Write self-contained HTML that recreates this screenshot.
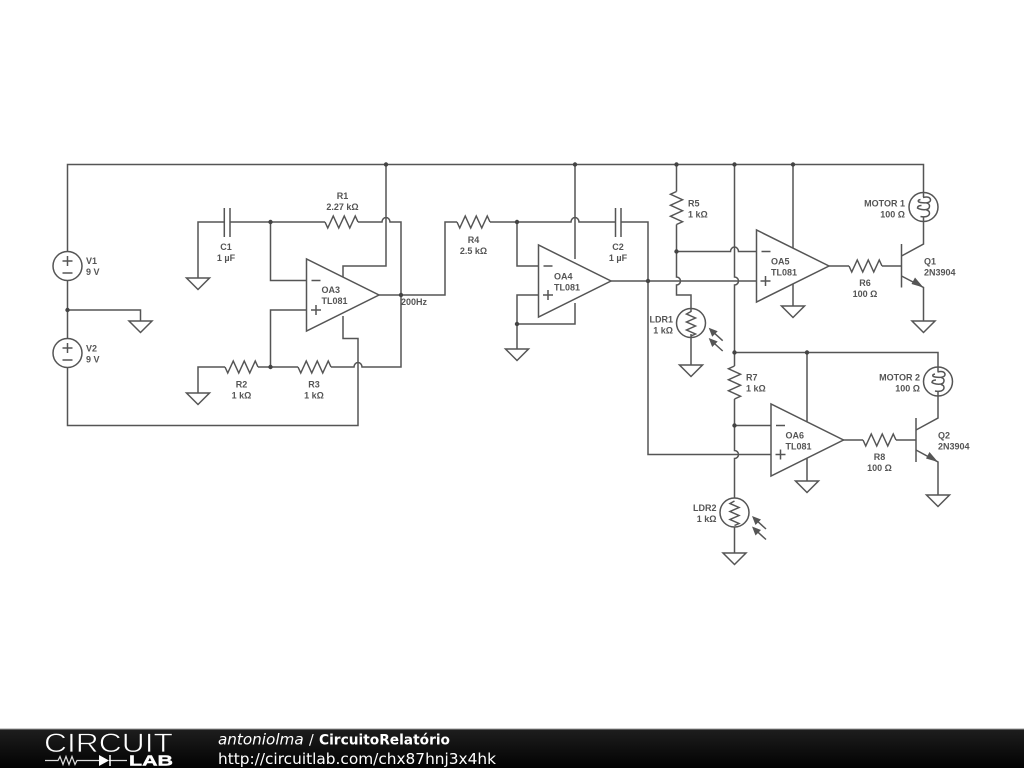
<!DOCTYPE html>
<html><head><meta charset="utf-8"><style>
html,body{margin:0;padding:0;background:#fff;width:1024px;height:768px;overflow:hidden}
svg{display:block}
.w{fill:none;stroke:#555;stroke-width:1.5;stroke-linejoin:miter}
text{font-family:"Liberation Sans",sans-serif;font-size:9px;font-weight:bold;fill:#555}
.m{text-anchor:middle}.e{text-anchor:end}
.f{font-family:"DejaVu Sans",sans-serif;fill:#fff;font-weight:normal}
.d{filter:blur(.3px)}
</style></head><body>
<svg width="1024" height="768" viewBox="0 0 1024 768" xmlns="http://www.w3.org/2000/svg">
<defs>
<linearGradient id="g" x1="0" y1="0" x2="0" y2="1"><stop offset="0" stop-color="#1e1e1e"/><stop offset="1" stop-color="#020202"/></linearGradient>
<path id="r" class="w" d="M0 0l2.75 6 5.5-12 5.5 12 5.5-12 5.5 12 5.5-12 2.75 6"/>
<path id="gnd" class="w" d="M-11.5 0H11.5L0 11.5Z"/>
<path id="ldrz" class="w" d="M0 -11.5l-4.5 2.5 9 4-9 4 9 4-9 4 9 4-4.5 2"/>
<g id="arrow"><path class="w" d="M14 13L3 3"/><path d="M0 0L9 3.5 3.5 9Z" fill="#555"/></g>
<path id="coil" class="w" d="M-0.5 -9.5C5 -11 7 -9 7 -7 7 -4.5 3 -3.5 -3 -4.5-6-5-6-7-3-7.5M3-4C7-3.5 7 1.5 3 2.5 0 3-4 2.5-6 1-6-1-4-1.5-2-1.5M3 3C7 4 7 8 3 9.5 1 10 -1 10 -3 9.5"/>
<path id="tr" class="w" d="M0 0V72L72.5 36Z"/>
</defs>
<rect width="1024" height="768" fill="#fff"/>
<g class="d">
<!-- wires -->
<path class="w" d="M67.5 251.5V164.5H923.5V193M67.5 280.5V338.5M67.5 367.5V425.5H358V367M358 367V338.5H343V316"/>
<path class="w" d="M67.5 310H140.5V321"/>
<path class="w" d="M198 278V222H224.3M230 222H325M358 222H382a4 4.5 0 0 1 8 0H401V295M386 164.5V266H343V277"/>
<path class="w" d="M270.5 222V280.5H306.5M306.5 310H270.5V367M198 393V367H225M258 367H270.5H298M331 367H354a4 4.5 0 0 1 8 0H401V295"/>
<path class="w" d="M379 295H445V222H457M490 222H571a4 4.5 0 0 1 8 0H615.5M621 222H648V454.5H771"/>
<path class="w" d="M517 222V266H538.5M538.5 295H517V349M517 324H575V303M575 164.5V259"/>
<path class="w" d="M611 281H756.5"/>
<path class="w" d="M676.5 164.5V191.5M676.5 224.5V277a4 4 0 0 1 0 8V295H691V312M691 334V365"/>
<path class="w" d="M676.5 251.5H730.5a4 4.5 0 0 1 8 0H756.5"/>
<path class="w" d="M734.5 164.5V277a4 4 0 0 1 0 8V352.5M734.5 352.5H938V367M734.5 352.5V366M734.5 399V450.5a4 4 0 0 1 0 8V498M734.5 527V553"/>
<path class="w" d="M734.5 425.5H771"/>
<path class="w" d="M793 164.5V248M793 284V306M807 352.5V422M807 458V481"/>
<path class="w" d="M829 266H849M882 266H901.5M843 440H863M896 440H916"/>
<path class="w" d="M923.5 222V244L901.5 256M901.5 276L923.5 287.5V321M938 396V418L916 430M916 450L938 462V495"/>
<path class="w" d="M901.5 244V287.5M916 418V462M224.3 208V237M230 208V237M615.5 208V237M621 208V237"/>
<path d="M923.5 287.5L911.5 284 915 277.5Z M938 462L926 458.5 929.5 452Z" fill="#555"/>

<!-- op amps -->
<use href="#tr" x="306.5" y="259"/><use href="#tr" x="538.5" y="245"/><use href="#tr" x="756.5" y="230"/><use href="#tr" x="771" y="404"/>
<path class="w" d="M311.5 280.5h9M316 305v10M311 310h10M543.5 266h9M548 290v10M543 295h10M761.5 251.5h9M765.5 276v10M760.5 281h10M776 425.5h9M780.5 449.5v10M775.5 454.5h10"/>

<!-- sources -->
<circle class="w" cx="67.5" cy="266" r="14.5"/><circle class="w" cx="67.5" cy="353" r="14.5"/>
<path class="w" d="M62.5 261h10M67.5 256v10M62.5 273h10M62.5 348h10M67.5 343v10M62.5 360h10"/>

<!-- resistors -->
<use href="#r" x="325" y="222"/><use href="#r" x="225" y="367"/><use href="#r" x="298" y="367"/><use href="#r" x="457" y="222"/><use href="#r" x="849" y="266"/><use href="#r" x="863" y="440"/>
<use href="#r" transform="translate(676.5 191.5) rotate(90)"/><use href="#r" transform="translate(734.5 366) rotate(90)"/>

<!-- grounds -->
<use href="#gnd" x="140.5" y="321"/><use href="#gnd" x="198" y="278"/><use href="#gnd" x="198" y="393"/><use href="#gnd" x="517" y="349"/><use href="#gnd" x="691" y="365"/><use href="#gnd" x="793" y="306"/><use href="#gnd" x="923.5" y="321"/><use href="#gnd" x="807" y="481"/><use href="#gnd" x="938" y="495"/><use href="#gnd" x="734.5" y="553"/>

<!-- LDR -->
<circle class="w" cx="691" cy="323" r="14.5"/><circle class="w" cx="734.5" cy="512.5" r="14.5"/>
<use href="#ldrz" x="691" y="323"/><use href="#ldrz" x="734.5" y="512.5"/>
<use href="#arrow" x="708.7" y="327.7"/><use href="#arrow" x="708.7" y="338"/><use href="#arrow" x="752" y="516"/><use href="#arrow" x="752" y="526.5"/>

<!-- motors -->
<circle class="w" cx="923.5" cy="207" r="14.5"/><circle class="w" cx="938" cy="381.5" r="14.5"/>
<path class="w" d="M923.5 193V197M938 367V371.5M923.5 217V222M938 391.5V396"/>
<use href="#coil" x="923.5" y="207"/><use href="#coil" x="938" y="381.5"/>

<!-- nodes -->
<g fill="#444">
<circle cx="386" cy="164.5" r="2.2"/><circle cx="575" cy="164.5" r="2.2"/><circle cx="676.5" cy="164.5" r="2.2"/><circle cx="734.5" cy="164.5" r="2.2"/><circle cx="793" cy="164.5" r="2.2"/>
<circle cx="270.5" cy="222" r="2.2"/><circle cx="270.5" cy="367" r="2.2"/><circle cx="401" cy="295" r="2.2"/><circle cx="67.5" cy="310" r="2.2"/>
<circle cx="517" cy="222" r="2.2"/><circle cx="517" cy="324" r="2.2"/><circle cx="648" cy="281" r="2.2"/><circle cx="676.5" cy="251.5" r="2.2"/>
<circle cx="734.5" cy="352.5" r="2.2"/><circle cx="807" cy="352.5" r="2.2"/><circle cx="734.5" cy="425.5" r="2.2"/>
</g>

<!-- labels -->
<text x="86" y="264">V1</text><text x="86" y="275">9 V</text>
<text x="86" y="351.5">V2</text><text x="86" y="362.5">9 V</text>
<text class="m" x="342.5" y="199">R1</text><text class="m" x="342.5" y="210">2.27 kΩ</text>
<text class="m" x="226" y="250">C1</text><text class="m" x="226" y="261">1 µF</text>
<text x="321.5" y="293">OA3</text><text x="321.5" y="304">TL081</text>
<text x="401" y="305">200Hz</text>
<text class="m" x="241.5" y="387.5">R2</text><text class="m" x="241.5" y="398.5">1 kΩ</text>
<text class="m" x="314" y="387.5">R3</text><text class="m" x="314" y="398.5">1 kΩ</text>
<text class="m" x="473.5" y="243">R4</text><text class="m" x="473.5" y="254">2.5 kΩ</text>
<text class="m" x="618" y="250">C2</text><text class="m" x="618" y="261">1 µF</text>
<text x="554" y="279.5">OA4</text><text x="554" y="290.5">TL081</text>
<text x="688" y="206.5">R5</text><text x="688" y="217.5">1 kΩ</text>
<text class="e" x="673" y="322.5">LDR1</text><text class="e" x="673" y="333.5">1 kΩ</text>
<text x="771" y="264.5">OA5</text><text x="771" y="275.5">TL081</text>
<text class="e" x="905" y="206.5">MOTOR 1</text><text class="e" x="905" y="217.5">100 Ω</text>
<text class="m" x="865" y="286">R6</text><text class="m" x="865" y="297">100 Ω</text>
<text x="924" y="264.5">Q1</text><text x="924" y="275.5">2N3904</text>
<text x="746" y="380.5">R7</text><text x="746" y="391.5">1 kΩ</text>
<text class="e" x="920" y="380.5">MOTOR 2</text><text class="e" x="920" y="391.5">100 Ω</text>
<text x="785.5" y="438.5">OA6</text><text x="785.5" y="449.5">TL081</text>
<text class="m" x="879.5" y="460">R8</text><text class="m" x="879.5" y="471">100 Ω</text>
<text x="938" y="438.5">Q2</text><text x="938" y="449.5">2N3904</text>
<text class="e" x="716.5" y="511">LDR2</text><text class="e" x="716.5" y="522">1 kΩ</text>
</g>

<!-- footer -->
<rect y="729" width="1024" height="39" fill="url(#g)"/>
<rect y="728.5" width="1024" height="1" fill="#999"/>
<text x="44" y="752" textLength="129" lengthAdjust="spacingAndGlyphs" style="font-size:26.5px;font-weight:normal;fill:#fff;stroke:#151515;stroke-width:.7">CIRCUIT</text>
<path d="M45 760.5H58l2-4 3 8 3-8 3 8 3-8 3 8 2-4H99M109 760.5H127" fill="none" stroke="#ddd" stroke-width="1.2"/>
<path d="M99 755L109 760.5 99 766Z" fill="#fff"/><path d="M110 755v11" stroke="#fff" stroke-width="1.5"/>
<text x="129" y="765.5" textLength="44" lengthAdjust="spacingAndGlyphs" style="font-size:14.5px;font-weight:bold;fill:#fff;stroke:#fff;stroke-width:.4">LAB</text>
<text class="f" x="218" y="744.5" style="font-size:15.2px;font-style:italic">antoniolma</text>
<text class="f" x="309" y="744.5" style="font-size:14px">/</text>
<text class="f" x="319" y="744.5" textLength="131" lengthAdjust="spacingAndGlyphs" style="font-size:14px;font-weight:bold">CircuitoRelatório</text>
<text class="f" x="218" y="764" style="font-size:15px" textLength="278" lengthAdjust="spacingAndGlyphs">http://circuitlab.com/chx87hnj3x4hk</text>
</svg>
</body></html>
